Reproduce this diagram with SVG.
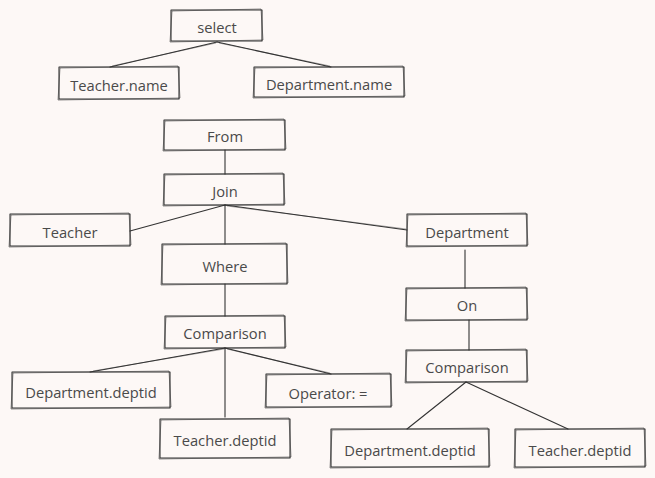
<svg xmlns="http://www.w3.org/2000/svg" width="655" height="478" viewBox="0 0 655 478">
<style>
.bg{fill:#fdf8f6}
.b{fill:none;stroke:#333;stroke-width:1.1;stroke-linejoin:round}
.b2{fill:none;stroke:#333;stroke-width:0.7;opacity:0.8}
.c{fill:none;stroke:#333;stroke-width:1.1;stroke-linecap:round}
.c2{fill:none;stroke:#333;stroke-width:0.6;opacity:0.7}
text{font-family:"Open Sans","Noto Sans","Liberation Sans",sans-serif;font-size:14.7px;fill:#4a4a4a;text-anchor:middle;dominant-baseline:central}
</style>
<rect class="bg" x="0" y="0" width="655" height="478"/>
<g id="connectors">
<path class="c" d="M217 42 L110 67"/><path class="c2" d="M216 43 L112 66"/>
<path class="c" d="M217 42 L331 67"/><path class="c2" d="M219 43 L330 66"/>
<path class="c" d="M225 150 L225 174"/>
<path class="c" d="M225 205 L130 231"/>
<path class="c" d="M225 205 L225 244"/>
<path class="c" d="M225 205 L407 230"/><path class="c2" d="M227 206 L406 229"/>
<path class="c" d="M465 250 L465 288"/>
<path class="c" d="M469 320 L469 350"/>
<path class="c" d="M466 382 L407 429"/>
<path class="c" d="M466 382 L568 429"/>
<path class="c" d="M225 284 L225 316"/>
<path class="c" d="M225 348 L90 372"/><path class="c2" d="M224 349 L93 371"/>
<path class="c" d="M225 348 L225 417"/>
<path class="c" d="M225 348 L331 374"/><path class="c2" d="M227 349 L330 373"/>
</g>
<g id="select">
<path class="b" d="M171 10 L262 10 L262 41 L171 41 Z"/><path class="b2" d="M172 11 L261 9 L263 40 L170 42 Z"/>
<text x="217" y="27">select</text>
</g>
<g id="teacher-name">
<path class="b" d="M59 67 L179 67 L179 99 L59 99 Z"/><path class="b2" d="M60 68 L178 66 L180 98 L58 100 Z"/>
<text x="119" y="85">Teacher.name</text>
</g>
<g id="department-name">
<path class="b" d="M254 67 L404 67 L404 97 L254 97 Z"/><path class="b2" d="M255 68 L403 66 L405 96 L253 98 Z"/>
<text x="329" y="84">Department.name</text>
</g>
<g id="from">
<path class="b" d="M164 120 L285 120 L285 150 L164 150 Z"/><path class="b2" d="M165 121 L284 119 L286 149 L163 151 Z"/>
<text x="225" y="136">From</text>
</g>
<g id="join">
<path class="b" d="M164 174 L284 174 L284 205 L164 205 Z"/><path class="b2" d="M165 175 L283 173 L285 204 L163 206 Z"/>
<text x="225" y="191">Join</text>
</g>
<g id="teacher">
<path class="b" d="M10 214 L130 214 L130 246 L10 246 Z"/><path class="b2" d="M11 215 L129 213 L131 245 L9 247 Z"/>
<text x="70" y="232">Teacher</text>
</g>
<g id="where">
<path class="b" d="M162 244 L287 244 L287 284 L162 284 Z"/><path class="b2" d="M163 245 L286 243 L288 283 L161 285 Z"/>
<text x="225" y="266">Where</text>
</g>
<g id="department">
<path class="b" d="M407 214 L527 214 L527 246 L407 246 Z"/><path class="b2" d="M408 215 L526 213 L528 245 L406 247 Z"/>
<text x="467" y="232">Department</text>
</g>
<g id="on">
<path class="b" d="M406 288 L527 288 L527 320 L406 320 Z"/><path class="b2" d="M407 289 L526 287 L528 319 L405 321 Z"/>
<text x="467" y="305">On</text>
</g>
<g id="comparison-right">
<path class="b" d="M406 350 L527 350 L527 382 L406 382 Z"/><path class="b2" d="M407 351 L526 349 L528 381 L405 383 Z"/>
<text x="467" y="367">Comparison</text>
</g>
<g id="department-deptid-right">
<path class="b" d="M331 429 L489 429 L489 467 L331 467 Z"/><path class="b2" d="M332 430 L488 428 L490 466 L330 468 Z"/>
<text x="410" y="450">Department.deptid</text>
</g>
<g id="teacher-deptid-right">
<path class="b" d="M515 429 L645 429 L645 467 L515 467 Z"/><path class="b2" d="M516 430 L644 428 L646 466 L514 468 Z"/>
<text x="580" y="450">Teacher.deptid</text>
</g>
<g id="comparison-left">
<path class="b" d="M165 316 L285 316 L285 348 L165 348 Z"/><path class="b2" d="M166 317 L284 315 L286 347 L164 349 Z"/>
<text x="225" y="333">Comparison</text>
</g>
<g id="department-deptid-left">
<path class="b" d="M12 372 L170 372 L170 408 L12 408 Z"/><path class="b2" d="M13 373 L169 371 L171 407 L11 409 Z"/>
<text x="91" y="392">Department.deptid</text>
</g>
<g id="teacher-deptid-left">
<path class="b" d="M160 419 L290 419 L290 458 L160 458 Z"/><path class="b2" d="M161 420 L289 418 L291 457 L159 459 Z"/>
<text x="225" y="440">Teacher.deptid</text>
</g>
<g id="operator">
<path class="b" d="M266 374 L391 374 L391 407 L266 407 Z"/><path class="b2" d="M267 375 L390 373 L392 406 L265 408 Z"/>
<text x="328" y="393">Operator: =</text>
</g>
</svg>
